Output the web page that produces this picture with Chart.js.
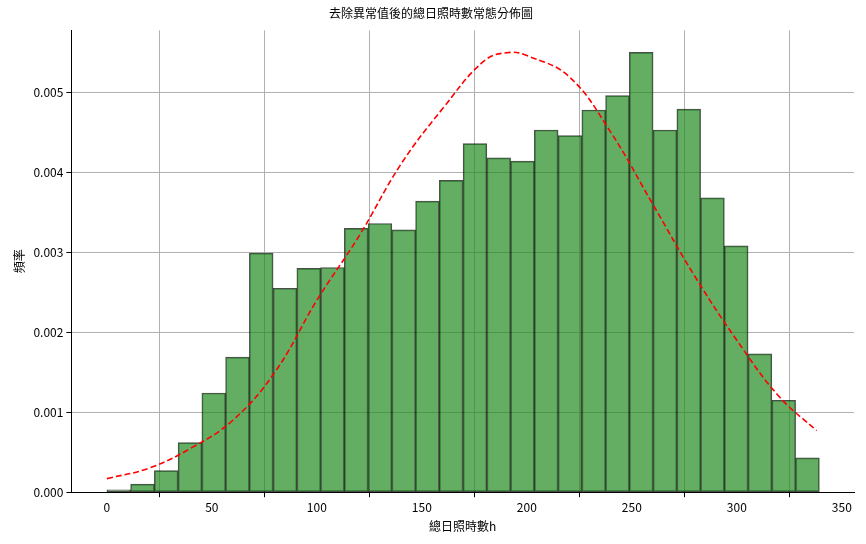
<!DOCTYPE html>
<html><head><meta charset="utf-8">
<script src="https://cdn.jsdelivr.net/npm/chart.js@4"></script>
<style>body{margin:0;background:#fff}#w{width:866px;height:544px}</style>
</head><body><div id="w"><canvas id="c"></canvas></div>
<script>
const binWidth = 11.31;
const binHeights = [0.00003,0.0001,0.00027,0.00062,0.00124,0.00169,0.00299,0.00255,0.0028,0.00281,0.0033,0.00336,0.00328,0.00364,0.0039,0.00436,0.00418,0.00414,0.00453,0.00446,0.00478,0.00496,0.0055,0.00453,0.00479,0.00368,0.00308,0.00173,0.00115,0.00043];
const curveX = [0,20,40,60,80,100,120,140,160,180,192,200,220,240,260,280,300,320,338];
const curveY = [0.00017,0.0003,0.00055,0.0009,0.0015,0.0024,0.0032,0.0041,0.0048,0.0054,0.0055,0.00546,0.0052,0.0045,0.0036,0.0027,0.0019,0.0012,0.00077];
const font = {family:'"Noto Sans CJK TC", "DejaVu Sans", sans-serif', size:12};
Chart.defaults.font = font; Chart.defaults.color = '#000';
new Chart(document.getElementById('c'), {
  data: { datasets: [
    { type:'line', data: curveX.map((x,i)=>({x, y:curveY[i]})), borderColor:'red', borderWidth:1.6, borderDash:[6,3], pointRadius:0, tension:0.4, order:0 },
    { type:'bar', data: binHeights.map((y,i)=>({x:(i+0.5)*binWidth, y})), backgroundColor:'rgba(34,139,34,0.7)', borderColor:'rgba(0,0,0,0.7)', borderWidth:1, borderSkipped:false, barPercentage:1, categoryPercentage:1, grouped:false, order:1 }
  ]},
  options: {
    responsive:true, maintainAspectRatio:false, animation:false,
    layout:{padding:{left:8,right:12,top:4,bottom:6}},
    plugins:{ legend:{display:false}, tooltip:{enabled:false},
      title:{display:true, text:'去除異常值後的總日照時數常態分佈圖', font:{...font,size:12,weight:'normal'}, padding:{top:2,bottom:10}} },
    scales:{
      x:{ type:'linear', min:-16.9, max:355.8, offset:false,
        ticks:{stepSize:50, callback:v=>(v%50===0?v:''), maxRotation:0, color:'#000'},
        afterBuildTicks:a=>{a.ticks=[0,50,100,150,200,250,300,350].map(v=>({value:v}));},
        grid:{color:'#b0b0b0', tickColor:'#000', tickLength:5},
        border:{color:'#000'},
        title:{display:true, text:'總日照時數h', padding:{top:2}} },
      y:{ min:0, max:0.005775,
        afterBuildTicks:a=>{a.ticks=[0,0.001,0.002,0.003,0.004,0.005].map(v=>({value:v}));},
        ticks:{callback:v=>v.toFixed(3), color:'#000'},
        grid:{color:'#b0b0b0', tickColor:'#000', tickLength:5},
        border:{color:'#000'},
        title:{display:true, text:'頻率'} }
    }
  }
});
</script></body></html>
